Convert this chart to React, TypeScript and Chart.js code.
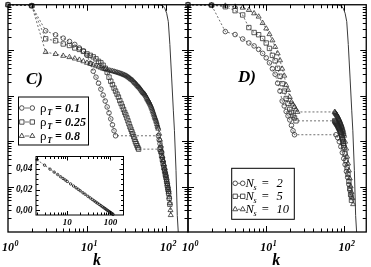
import React, { useEffect, useRef } from 'react';
import { Chart, registerables } from 'chart.js';

Chart.register(...registerables);

const W = 371;
const H = 267;
const SERIF = '"Liberation Serif", "DejaVu Serif", serif';

// ---------- Panel C : rho_T series (k, P(k)) ----------
const kC_rho01 = [1, 2, 3, 4, 5, 6, 7, 8, 9, 10, 11, 12, 13, 14, 15, 16, 17, 18, 19, 20, 21, 22, 23,
  80, 82, 84, 86, 88, 90, 92, 94, 96, 98, 100, 102, 104, 106, 108];
const pC_rho01 = [1, 0.951, 0.267, 0.218, 0.184, 0.156, 0.134, 0.112, 0.0966, 0.077, 0.0515, 0.0345,
  0.0255, 0.0188, 0.0139, 0.0103, 0.00762, 0.00564, 0.00417, 0.00308, 0.00228, 0.00169, 0.00131,
  0.00131, 0.00107, 0.000877, 0.000718, 0.000558, 0.000434, 0.000355, 0.00029, 0.000238, 0.000204,
  0.000176, 0.000144, 0.000117, 0.0000961, 0.0000786];

const kC_rho025 = [1, 2, 3, 4, 5, 6, 7, 8, 9, 10, 11, 12, 13, 14, 15, 16, 17, 18, 19, 20, 21, 22, 23,
  24, 25, 26, 27, 28, 29, 30, 31, 32, 33, 34, 35, 36, 37, 38, 39, 40, 41, 42, 43, 44, 45,
  84, 86, 88, 90, 92, 94, 96, 98, 100, 102, 104, 106, 108, 110, 112];
const pC_rho025 = [1, 0.951, 0.178, 0.161, 0.137, 0.127, 0.112, 0.104, 0.0942, 0.083, 0.077, 0.0714,
  0.0646, 0.0569, 0.0528, 0.0466, 0.0401, 0.0328, 0.0255, 0.0208, 0.0175, 0.0147, 0.0126, 0.0108,
  0.00931, 0.00781, 0.00672, 0.00578, 0.00497, 0.00428, 0.00377, 0.00324, 0.00279, 0.0024, 0.00206,
  0.00182, 0.0016, 0.00142, 0.00125, 0.0011, 0.00097, 0.000877, 0.000794, 0.000718, 0.000665,
  0.000665, 0.000587, 0.00048, 0.000393, 0.000321, 0.000262, 0.000226, 0.000185, 0.000159, 0.00013,
  0.000106, 0.0000869, 0.0000711, 0.0000552, 0.0000408];

const kC_rho08 = [1, 2, 3, 4, 5, 6, 7, 8, 9, 10, 11, 12, 13, 14, 15, 16, 17, 18, 19, 20,
  21, 22, 23, 24, 25, 26, 27, 28, 29, 30, 31, 32, 33, 34, 35, 36, 37, 38, 39, 40,
  41, 42, 43, 44, 45, 46, 47, 48, 49, 50, 51, 52, 53, 54, 55, 56, 57, 58, 59, 60,
  61, 62, 63, 64, 65, 66, 67, 68, 69, 70, 71, 72, 73, 74, 75, 76, 77, 78, 79, 80,
  82, 84, 86, 88, 90, 92, 94, 96, 98, 100, 102, 104, 106, 108, 110, 112, 114, 115];
const pC_rho08 = [1, 0.951, 0.0909, 0.0822, 0.0751, 0.0703, 0.0655, 0.0614, 0.0569, 0.0528,
  0.0502, 0.0478, 0.0454, 0.0432, 0.0411, 0.0391, 0.0381, 0.0371, 0.0362, 0.0353,
  0.0346, 0.0339, 0.0331, 0.0324, 0.0317, 0.0311, 0.0303, 0.0296, 0.0289, 0.0282,
  0.0275, 0.0268, 0.0258, 0.0248, 0.0239, 0.023, 0.0222, 0.0214, 0.0203, 0.0193,
  0.0186, 0.0179, 0.017, 0.0162, 0.0156, 0.015, 0.0143, 0.0136, 0.0129, 0.0123,
  0.0118, 0.0114, 0.011, 0.0106, 0.0101, 0.00955, 0.00897, 0.00843, 0.00801, 0.00762,
  0.00724, 0.00689, 0.00647, 0.00608, 0.00571, 0.00536, 0.00497, 0.00461, 0.00428, 0.00397,
  0.00368, 0.00341, 0.0032, 0.00301, 0.00279, 0.00259, 0.00237, 0.00217, 0.00201, 0.00187,
  0.00145, 0.00107, 0.000794, 0.000617, 0.000456, 0.000373, 0.000305, 0.00025, 0.000204, 0.000167,
  0.000137, 0.000112, 0.0000913, 0.0000747, 0.0000581, 0.000043, 0.0000302, 0.0000235];

// ---------- Panel D : N_s series ----------
const kD_ns2 = [1, 2, 3, 4, 5, 6, 7, 8, 9, 10, 11, 12, 13, 14, 15, 16, 17, 18, 19, 20, 21, 22, 23,
  78, 82, 86, 90, 94, 98, 102, 106, 110, 114, 118, 122];
const pD_ns2 = [1, 0.98, 0.257, 0.221, 0.1765, 0.1443, 0.1242, 0.1041, 0.0851, 0.0679, 0.0528, 0.0391,
  0.0296, 0.0188, 0.0126, 0.00762, 0.00593, 0.00449, 0.00359, 0.00293, 0.00222, 0.00169, 0.00138,
  0.00138, 0.00119, 0.00097, 0.000755, 0.000558, 0.000413, 0.000305, 0.000215, 0.000159, 0.000112,
  0.0000826, 0.0000611];

const kD_ns5 = [1, 2, 3, 4, 5, 6, 7, 8, 9, 10, 11, 12, 13, 14, 15, 16, 17, 18, 19, 20, 21, 22, 23, 24,
  75, 76, 77, 78, 79, 80, 81, 82, 83, 84, 85, 86, 87, 88, 89, 90, 91, 92, 93, 94, 95, 96, 97, 98, 99,
  102, 105, 108, 111, 114, 117, 120, 123];
const pD_ns5 = [1, 0.98, 0.904, 0.74, 0.596, 0.315, 0.245, 0.219, 0.181, 0.144, 0.1095, 0.077, 0.0584,
  0.04, 0.0268, 0.0184, 0.0126, 0.00864, 0.00672, 0.00497, 0.00428, 0.00368, 0.00324, 0.00279,
  0.00279, 0.0027, 0.00261, 0.00252, 0.00244, 0.00236, 0.00228, 0.00219, 0.0021, 0.00201, 0.00193,
  0.00185, 0.00177, 0.00168, 0.0016, 0.00153, 0.00143, 0.00134, 0.00125, 0.00115, 0.00106, 0.00097,
  0.000883, 0.000797, 0.000718,
  0.000531, 0.000373, 0.000262, 0.000185, 0.00013, 0.0000913, 0.0000676, 0.00005];

const kD_ns10 = [1, 2, 3, 4, 5, 6, 7, 8, 9, 10, 11, 12, 13, 14, 15, 16, 17, 18, 19, 20, 21, 22, 23, 24, 25,
  75, 76, 77, 78, 79, 80, 81, 82, 83, 84, 85, 86, 87, 88, 89, 90, 91, 92, 93, 94, 95, 96, 97, 98, 99,
  102, 105, 108, 111, 114, 117, 120, 123, 126, 129];
const pD_ns10 = [1, 0.98, 0.951, 0.904, 0.86, 0.766, 0.646, 0.547, 0.395, 0.299, 0.225, 0.164, 0.118,
  0.0851, 0.0599, 0.0391, 0.0275, 0.017, 0.0133, 0.00932, 0.00725, 0.00639, 0.00564, 0.00497, 0.00438,
  0.00438, 0.00424, 0.0041, 0.00397, 0.00384, 0.00371, 0.00359, 0.00344, 0.0033, 0.00316, 0.00303,
  0.00291, 0.00279, 0.00265, 0.00252, 0.0024, 0.00228, 0.00217, 0.00206, 0.00192, 0.0018, 0.00169,
  0.00155, 0.00143, 0.00131,
  0.00097, 0.000682, 0.000456, 0.000321, 0.000226, 0.000151, 0.000101, 0.0000747, 0.0000553, 0.0000409];

// ---------- reference (solid) curve, both panels ----------
const kRef = [70, 84, 92, 97, 102, 107, 112, 118, 124, 128, 134, 139, 143];
const pRef = [1, 0.99, 0.93, 0.82, 0.65, 0.425, 0.134, 0.0244, 0.00463, 0.00169, 0.000224, 0.000023, 0.00001];

// ---------- inset ----------
const kInset = [2, 3, 4, 5, 6, 7, 8, 9, 10, 12, 14, 16, 18, 20, 23, 26, 30, 34, 38, 42, 46, 50, 55, 60,
  65, 70, 75, 80, 85, 90, 95, 100, 105, 110, 115];
const vInset = [0.0489, 0.0436, 0.0398, 0.0369, 0.0346, 0.0325, 0.0308, 0.0293, 0.0279, 0.0255, 0.0235,
  0.0218, 0.0203, 0.0189, 0.017, 0.0155, 0.0136, 0.012, 0.0105, 0.0092, 0.008, 0.0069, 0.0057, 0.0046,
  0.0035, 0.0026, 0.0017, 0.0008, 0.0, -0.0007, -0.0014, -0.0021, -0.0027, -0.0033, -0.0039];

// ---------- labels ----------
const xTickValues = [1, 10, 100];
const xTickExps = ['0', '1', '2'];
const legendCValues = ['0.1', '0.25', '0.8'];
const legendDValues = ['2', '5', '10'];
const insetYTickValues = [0, 0.02, 0.04];
const insetYTickLabels = ['0,00', '0,02', '0,04'];
const insetXTickValues = [10, 100];
const insetXTickLabels = ['10', '100'];

const MARK = '#262626';
const LINE = '#4a4a4a';

type Tick = { v: number; major: boolean };

function logTicks(min: number, max: number): Tick[] {
  const out: Tick[] = [];
  const e0 = Math.floor(Math.log10(min) + 1e-9);
  const e1 = Math.ceil(Math.log10(max) - 1e-9);
  for (let e = e0; e <= e1; e++) {
    for (let m = 1; m <= 9; m++) {
      const v = m * Math.pow(10, e);
      if (v >= min * (1 - 1e-9) && v <= max * (1 + 1e-9)) out.push({ v, major: m === 1 });
    }
  }
  return out;
}

function linTicks(min: number, max: number, step: number, majorStep: number): Tick[] {
  const out: Tick[] = [];
  for (let i = Math.ceil(min / step - 1e-9); i * step <= max + 1e-12; i++) {
    const v = i * step;
    const r = v / majorStep;
    out.push({ v, major: Math.abs(r - Math.round(r)) < 1e-6 });
  }
  return out;
}

function seriesDS(ks: number[], ps: number[], style: string) {
  const r = style === 'rect' ? 3.1 : style === 'triangle' ? 2.9 : 2.3;
  return {
    data: ks.map((k, i) => ({ x: k, y: ps[i] })),
    showLine: true,
    borderColor: LINE,
    borderWidth: 0.8,
    borderDash: [2, 2],
    pointStyle: style,
    pointRadius: r,
    pointBorderWidth: 0.75,
    pointBorderColor: MARK,
    pointBackgroundColor: 'rgba(255,255,255,0)',
    clip: 6,
  };
}

function refDS() {
  return {
    data: kRef.map((k, i) => ({ x: k, y: pRef[i] })),
    showLine: true,
    borderColor: '#3a3a3a',
    borderWidth: 1,
    pointRadius: 0,
    clip: 1,
  };
}

function drawFrame(chart: any, xt: Tick[], yt: Tick[], maj: number, mnr: number, lw: number) {
  const { ctx, chartArea: a } = chart;
  const xs = chart.scales.x;
  const ys = chart.scales.y;
  ctx.save();
  ctx.strokeStyle = '#000';
  ctx.lineWidth = 1;
  ctx.setLineDash([]);
  ctx.beginPath();
  for (const t of xt) {
    const p = Math.round(xs.getPixelForValue(t.v)) + 0.5;
    if (p < a.left + 1 || p > a.right - 1) continue;
    const L = t.major ? maj : mnr;
    ctx.moveTo(p, a.bottom);
    ctx.lineTo(p, a.bottom - L);
    ctx.moveTo(p, a.top);
    ctx.lineTo(p, a.top + L);
  }
  for (const t of yt) {
    const p = Math.round(ys.getPixelForValue(t.v)) + 0.5;
    if (p < a.top + 1 || p > a.bottom - 1) continue;
    const L = t.major ? maj : mnr;
    ctx.moveTo(a.left, p);
    ctx.lineTo(a.left + L, p);
    ctx.moveTo(a.right, p);
    ctx.lineTo(a.right - L, p);
  }
  ctx.stroke();
  ctx.lineWidth = lw;
  ctx.strokeRect(a.left, a.top, a.right - a.left, a.bottom - a.top);
  ctx.restore();
}

function drawMarker(ctx: CanvasRenderingContext2D, style: string, x: number, y: number) {
  ctx.beginPath();
  if (style === 'circle') {
    ctx.arc(x, y, 2.3, 0, Math.PI * 2);
  } else if (style === 'rect') {
    const s = 3.1 * Math.SQRT1_2;
    ctx.rect(x - s, y - s, 2 * s, 2 * s);
  } else {
    const r = 2.9;
    let rad = 0;
    ctx.moveTo(x + Math.sin(rad) * r, y - Math.cos(rad) * r);
    rad += (2 * Math.PI) / 3;
    ctx.lineTo(x + Math.sin(rad) * r, y - Math.cos(rad) * r);
    rad += (2 * Math.PI) / 3;
    ctx.lineTo(x + Math.sin(rad) * r, y - Math.cos(rad) * r);
    ctx.closePath();
  }
  ctx.stroke();
}

function drawXLabels(chart: any) {
  const { ctx, chartArea: a } = chart;
  const xs = chart.scales.x;
  ctx.save();
  ctx.fillStyle = '#000';
  ctx.textBaseline = 'alphabetic';
  ctx.textAlign = 'left';
  xTickValues.forEach((v, i) => {
    const cx = xs.getPixelForValue(v);
    ctx.font = `bold italic 12px ${SERIF}`;
    const w = ctx.measureText('10').width;
    ctx.fillText('10', cx - w / 2, 251);
    ctx.font = `bold italic 8px ${SERIF}`;
    ctx.fillText(xTickExps[i], cx + w / 2 + 0.5, 246);
  });
  ctx.font = `bold italic 16px ${SERIF}`;
  ctx.textAlign = 'center';
  ctx.fillText('k', (a.left + a.right) / 2 - 1, 264.5);
  ctx.restore();
}

const styles = ['circle', 'rect', 'triangle'];

function drawLegendC(ctx: CanvasRenderingContext2D) {
  ctx.save();
  ctx.fillStyle = '#fff';
  ctx.fillRect(18.5, 97, 70, 48);
  ctx.strokeStyle = '#000';
  ctx.lineWidth = 1;
  ctx.strokeRect(18.5, 97, 70, 48);
  const rows = [108, 122, 136];
  rows.forEach((y, i) => {
    ctx.strokeStyle = MARK;
    ctx.lineWidth = 0.8;
    drawMarker(ctx, styles[i], 21.8, y);
    drawMarker(ctx, styles[i], 32.3, y);
    ctx.strokeStyle = LINE;
    ctx.beginPath();
    ctx.moveTo(24.8, y);
    ctx.lineTo(29.3, y);
    ctx.stroke();
    ctx.fillStyle = '#000';
    ctx.textAlign = 'left';
    ctx.textBaseline = 'alphabetic';
    ctx.font = `13px ${SERIF}`;
    ctx.fillText('ρ', 40, y + 3.5);
    ctx.font = `bold italic 8px ${SERIF}`;
    ctx.fillText('T', 47.3, y + 6.5);
    ctx.font = `bold italic 12px ${SERIF}`;
    ctx.fillText('=', 55, y + 4);
    ctx.fillText(legendCValues[i], 65, y + 4);
  });
  ctx.restore();
}

function drawLegendD(ctx: CanvasRenderingContext2D) {
  ctx.save();
  ctx.fillStyle = '#fff';
  ctx.fillRect(231.7, 168.3, 62.6, 51);
  ctx.strokeStyle = '#000';
  ctx.lineWidth = 1;
  ctx.strokeRect(231.7, 168.3, 62.6, 51);
  const rows = [183.3, 196.3, 209.3];
  rows.forEach((y, i) => {
    ctx.strokeStyle = MARK;
    ctx.lineWidth = 0.8;
    drawMarker(ctx, styles[i], 235.2, y);
    drawMarker(ctx, styles[i], 242.7, y);
    ctx.strokeStyle = LINE;
    ctx.beginPath();
    ctx.moveTo(237.8, y);
    ctx.lineTo(240.2, y);
    ctx.stroke();
    ctx.fillStyle = '#000';
    ctx.textAlign = 'left';
    ctx.textBaseline = 'alphabetic';
    ctx.font = `italic 12.5px ${SERIF}`;
    ctx.fillText('N', 245.5, y + 4);
    ctx.font = `italic 8px ${SERIF}`;
    ctx.fillText('s', 253.5, y + 7);
    ctx.font = `italic 12.5px ${SERIF}`;
    ctx.fillText('=', 261, y + 4);
    ctx.fillText(legendDValues[i], 276.5, y + 4);
  });
  ctx.restore();
}

function panelConfig(datasets: any[], padLeft: number, padRight: number, decorate: (chart: any) => void) {
  return {
    type: 'scatter' as const,
    data: { datasets },
    options: {
      responsive: false,
      animation: false as const,
      devicePixelRatio: 1,
      events: [],
      layout: { padding: { left: padLeft, right: padRight, top: 3, bottom: 35 } },
      plugins: { legend: { display: false }, tooltip: { enabled: false }, title: { display: false } },
      scales: {
        x: { type: 'logarithmic' as const, min: 1, max: 190, display: false },
        y: { type: 'logarithmic' as const, min: 1e-5, max: 1, display: false },
      },
    },
    plugins: [{ id: 'deco', afterDatasetsDraw: (chart: any) => decorate(chart) }],
  };
}

export default function App() {
  const refC = useRef<HTMLCanvasElement>(null);
  const refD = useRef<HTMLCanvasElement>(null);
  const refI = useRef<HTMLCanvasElement>(null);

  useEffect(() => {
    const xt = logTicks(1, 190);
    const yt = logTicks(1e-5, 1);

    const chartC = new Chart(
      refC.current as HTMLCanvasElement,
      panelConfig(
        [
          refDS(),
          seriesDS(kC_rho01, pC_rho01, 'circle'),
          seriesDS(kC_rho025, pC_rho025, 'rect'),
          seriesDS(kC_rho08, pC_rho08, 'triangle'),
        ],
        8,
        W - 188,
        (chart) => {
          drawFrame(chart, xt, yt, 6, 3.5, 1.3);
          drawXLabels(chart);
          const ctx = chart.ctx;
          ctx.save();
          ctx.fillStyle = '#000';
          ctx.font = `bold italic 17px ${SERIF}`;
          ctx.textAlign = 'left';
          ctx.textBaseline = 'alphabetic';
          ctx.fillText('C)', 26, 83.5);
          ctx.restore();
          drawLegendC(ctx);
        }
      ) as any
    );

    const chartD = new Chart(
      refD.current as HTMLCanvasElement,
      panelConfig(
        [
          refDS(),
          seriesDS(kD_ns2, pD_ns2, 'circle'),
          seriesDS(kD_ns5, pD_ns5, 'rect'),
          seriesDS(kD_ns10, pD_ns10, 'triangle'),
        ],
        188,
        W - 369,
        (chart) => {
          drawFrame(chart, xt, yt, 6, 3.5, 1.3);
          drawXLabels(chart);
          const ctx = chart.ctx;
          ctx.save();
          ctx.fillStyle = '#000';
          ctx.font = `bold italic 17px ${SERIF}`;
          ctx.textAlign = 'left';
          ctx.textBaseline = 'alphabetic';
          ctx.fillText('D)', 238, 82);
          ctx.restore();
          drawLegendD(ctx);
        }
      ) as any
    );

    const ixt = logTicks(1.9, 200);
    const iyt = linTicks(-0.0045, 0.052, 0.005, 0.02);
    const chartI = new Chart(refI.current as HTMLCanvasElement, {
      type: 'scatter',
      data: {
        datasets: [
          {
            data: kInset.map((k, i) => ({ x: k, y: vInset[i] })),
            showLine: true,
            borderColor: '#444',
            borderWidth: 0.8,
            borderDash: [2, 1.5],
            pointStyle: 'circle',
            pointRadius: 1.2,
            pointBorderWidth: 0.8,
            pointBorderColor: '#111',
            pointBackgroundColor: 'rgba(255,255,255,0)',
            clip: 3,
          },
        ],
      },
      options: {
        responsive: false,
        animation: false,
        devicePixelRatio: 1,
        events: [],
        layout: { padding: { left: 36, right: W - 123.5, top: 156.5, bottom: H - 215 } },
        plugins: { legend: { display: false }, tooltip: { enabled: false } },
        scales: {
          x: { type: 'logarithmic', min: 1.9, max: 200, display: false },
          y: { type: 'linear', min: -0.0045, max: 0.052, display: false },
        },
      },
      plugins: [
        {
          id: 'insetBg',
          beforeDatasetsDraw: (chart: any) => {
            const { ctx, chartArea: a } = chart;
            ctx.save();
            ctx.fillStyle = '#fff';
            ctx.fillRect(a.left, a.top, a.right - a.left, a.bottom - a.top);
            ctx.restore();
          },
          afterDatasetsDraw: (chart: any) => {
            drawFrame(chart, ixt, iyt, 4, 2.5, 1);
            const { ctx, chartArea: a } = chart;
            ctx.save();
            ctx.fillStyle = '#000';
            ctx.font = `bold italic 9.5px ${SERIF}`;
            ctx.textAlign = 'right';
            ctx.textBaseline = 'middle';
            insetYTickValues.forEach((v, i) => {
              ctx.fillText(insetYTickLabels[i], a.left - 3.5, chart.scales.y.getPixelForValue(v));
            });
            ctx.font = `bold italic 9px ${SERIF}`;
            ctx.textAlign = 'center';
            ctx.textBaseline = 'alphabetic';
            insetXTickValues.forEach((v, i) => {
              ctx.fillText(insetXTickLabels[i], chart.scales.x.getPixelForValue(v), a.bottom + 10);
            });
            ctx.restore();
          },
        },
      ],
    } as any);

    return () => {
      chartC.destroy();
      chartD.destroy();
      chartI.destroy();
    };
  }, []);

  const cs: React.CSSProperties = { position: 'absolute', left: 0, top: 0, width: W, height: H };
  return (
    <div style={{ position: 'absolute', left: 0, top: 0, width: W, height: H, background: '#fff' }}>
      <canvas ref={refC} width={W} height={H} style={cs} />
      <canvas ref={refD} width={W} height={H} style={cs} />
      <canvas ref={refI} width={W} height={H} style={cs} />
    </div>
  );
}
